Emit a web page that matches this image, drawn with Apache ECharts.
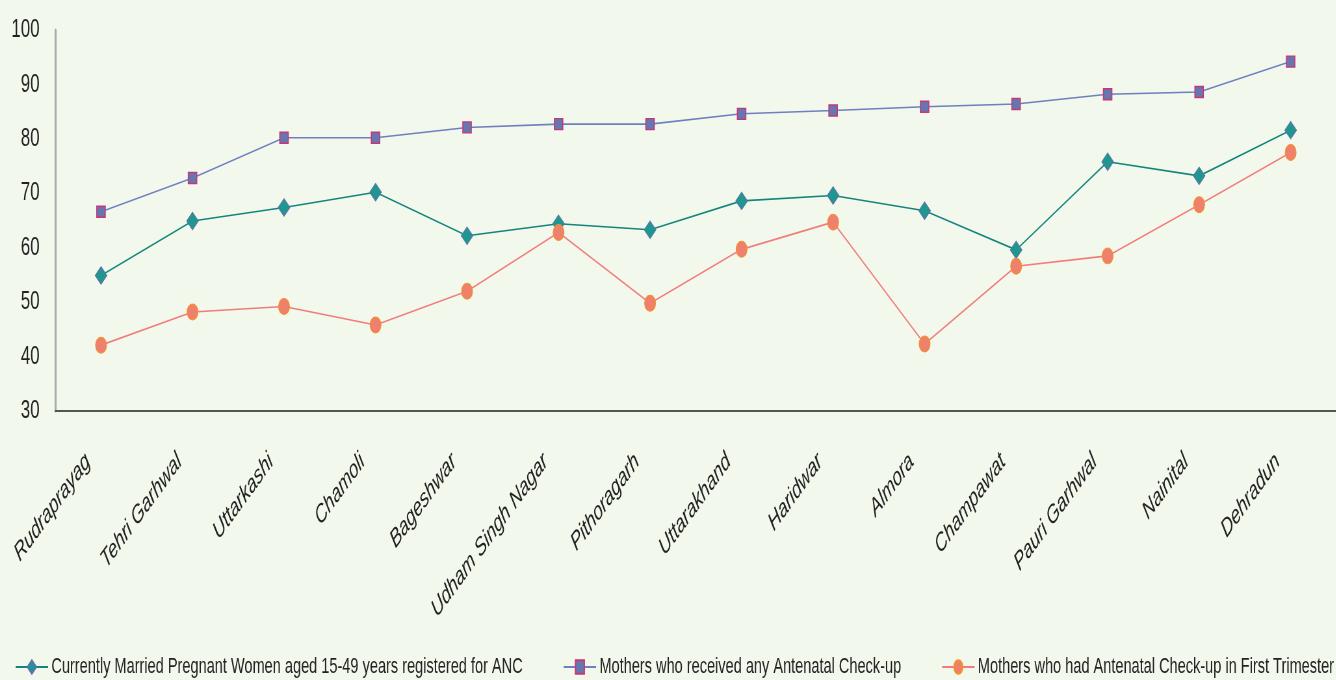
<!DOCTYPE html>
<html><head><meta charset="utf-8">
<script src="https://cdn.jsdelivr.net/npm/echarts@6/dist/echarts.min.js"></script>
<style>
html,body{margin:0;padding:0;background:#f3f8ec;overflow:hidden;}
#wrap{width:1336px;height:680px;overflow:hidden;position:relative;}
#c{width:2056px;height:680px;transform:scaleX(0.65);transform-origin:0 0;position:absolute;left:0;top:0;}
</style>
</head><body><div id="wrap"><div id="c"></div></div>
<script>
const categories = ["Rudraprayag","Tehri Garhwal","Uttarkashi","Chamoli","Bageshwar","Udham Singh Nagar","Pithoragarh","Uttarakhand","Haridwar","Almora","Champawat","Pauri Garhwal","Nainital","Dehradun"];
const registeredANC = [54.9,64.9,67.4,70.2,62.2,64.4,63.3,68.6,69.6,66.8,59.6,75.8,73.2,81.6];
const anyANC = [66.6,72.8,80.2,80.2,82.1,82.7,82.7,84.6,85.2,85.9,86.4,88.2,88.6,94.2];
const firstTrimester = [42.1,48.2,49.2,45.8,52.0,62.8,49.8,59.7,64.7,42.3,56.6,58.5,67.9,77.5];
const seriesNames = ["Currently Married Pregnant Women aged 15-49 years registered for ANC","Mothers who received any Antenatal Check-up","Mothers who had Antenatal Check-up in First Trimester"];
const yTicks = {min:30,max:100,interval:10};

const chart = echarts.init(document.getElementById('c'), null, {renderer:'canvas'});
chart.setOption({
  backgroundColor:'#f3f8ec',
  animation:false,
  grid:{left:85,right:0,top:30,bottom:269,containLabel:false},
  legend:{
    top:651,left:18,width:2200,itemGap:62,itemWidth:50,itemHeight:17,
    textStyle:{fontFamily:'"Liberation Sans", Arial, sans-serif',fontSize:22.4,color:'#222'},
    data:seriesNames
  },
  xAxis:{
    type:'category',data:categories,boundaryGap:true,
    axisLine:{lineStyle:{color:'#555',width:2}},
    axisTick:{show:false},
    axisLabel:{rotate:42,margin:29,padding:[0,27,0,0],fontFamily:'"Liberation Sans", Arial, sans-serif',fontStyle:'italic',fontSize:25.5,color:'#222',interval:0}
  },
  yAxis:{
    type:'value',min:yTicks.min,max:yTicks.max,interval:yTicks.interval,
    axisLine:{show:true,lineStyle:{color:'#aaa',width:3}},
    axisTick:{show:false},
    splitLine:{show:false},
    axisLabel:{fontFamily:'"Liberation Sans", Arial, sans-serif',fontSize:26,color:'#222',margin:24}
  },
  series:[
    {name:seriesNames[0],type:'line',data:registeredANC,symbol:'diamond',symbolSize:[18,17.5],
     lineStyle:{color:'#13857e',width:1.6},itemStyle:{color:'#1f978e',borderColor:'#6070b0',borderWidth:1}},
    {name:seriesNames[1],type:'line',data:anyANC,symbol:'rect',symbolSize:[13,11],
     lineStyle:{color:'#6e80c0',width:1.6},itemStyle:{color:'#6677b0',borderColor:'#c8357a',borderWidth:1.5}},
    {name:seriesNames[2],type:'line',data:firstTrimester,symbol:'circle',symbolSize:[17,16],
     lineStyle:{color:'#f27b7b',width:1.6},itemStyle:{color:'#ee806c',borderColor:'#f39322',borderWidth:1}}
  ]
});
</script></body></html>
